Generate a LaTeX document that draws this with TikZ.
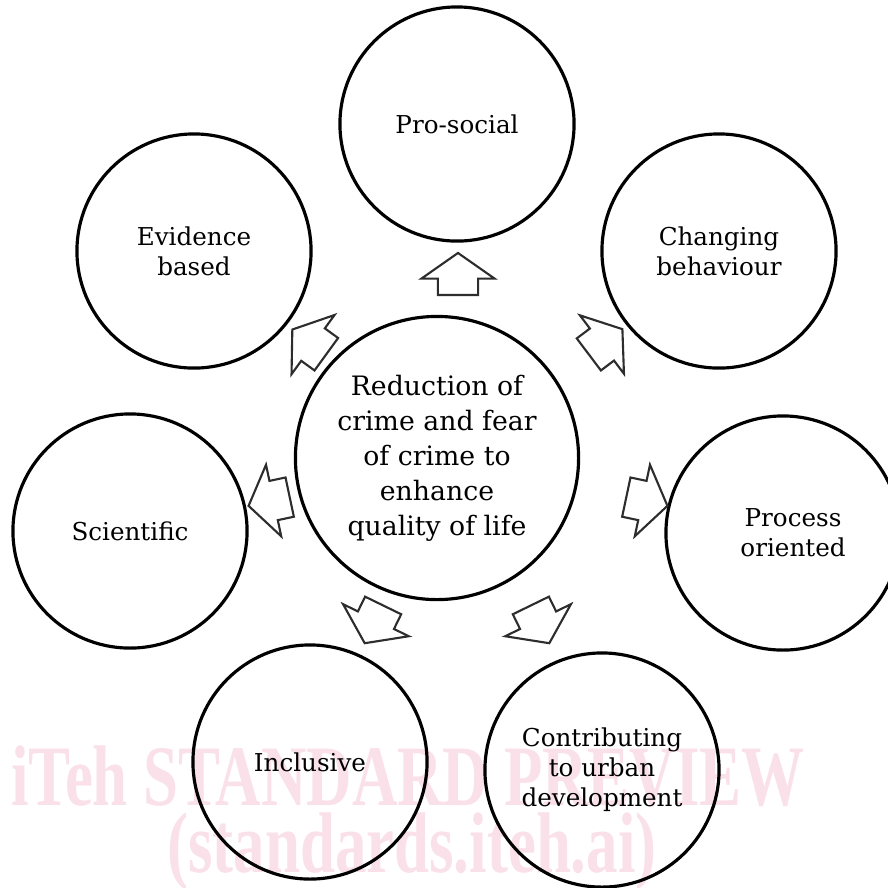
\documentclass[tikz,border=0pt]{standalone}
\usepackage{fontspec}
\setmainfont{DejaVu Serif}
\newfontfamily\wmfont{Liberation Serif}
\usetikzlibrary{shapes}
\definecolor{wmpink}{RGB}{250,224,232}
\definecolor{arrgray}{RGB}{45,45,45}
\tikzstyle{bub} = [circle, draw, line width=0.9pt, minimum size=2.34cm,
    inner sep=0pt, align=center, font=\fontsize{7}{8.5}\selectfont]
\tikzstyle{hub} = [circle, draw, line width=0.9pt, minimum size=2.83cm,
    inner sep=0pt, align=center, font=\fontsize{7.6}{9.95}\selectfont]
\tikzstyle{blk} = [single arrow, draw=arrgray, line width=0.6pt, fill=white,
    minimum height=0.42cm, inner xsep=0pt, inner ysep=0.19cm,
    single arrow head extend=0.165cm, single arrow tip angle=110]
\tikzstyle{wm} = [text=wmpink, anchor=base, inner sep=0pt,
    font=\wmfont\bfseries\fontsize{24.5}{28}\selectfont]

\begin{document}
\begin{tikzpicture}[x=0.01cm,y=-0.01cm]
  \useasboundingbox (0,0) rectangle (888,887);
  % watermark
  \node[wm] (wm1) at (408,805) {\scalebox{0.73}[1]{iTeh STANDARD PREVIEW}};
  \node[wm] (wm2) at (412,872) {\scalebox{0.73}[1]{(standards.iteh.ai)}};

  \node[hub] (c) at (437,458) {Reduction of\\crime and fear\\of crime to\\enhance\\quality of life};

  \node[bub] (ps) at (457,124) {Pro-social};
  \node[bub] (cb) at (719,251) {Changing\\behaviour};
  \node[bub] (eb) at (194,251) {Evidence\\based};
  \node[bub] (sc) at (130,531) {Scientific};
  \node[bub] (po) at (783,533) {\hspace*{0.2cm}Process\\\hspace*{0.2cm}oriented};
  \node[bub] (in) at (310,762) {Inclusive};
  \node[bub] (cu) at (602,770) {Contributing\\to urban\\development};

  % block arrows
  \node[blk,rotate=90]  (a1) at (458,281) {};
  \node[blk,rotate=37]  (a2) at (600,346) {};
  \node[blk,rotate=144] (a3) at (315,346) {};
  \node[blk,rotate=192] (a4) at (276,500) {};
  \node[blk,rotate=-12] (a5) at (640,500) {};
  \node[blk,rotate=-116] (a6) at (377,618) {};
  \node[blk,rotate=-64] (a7) at (537,618) {};
\end{tikzpicture}
\end{document}
